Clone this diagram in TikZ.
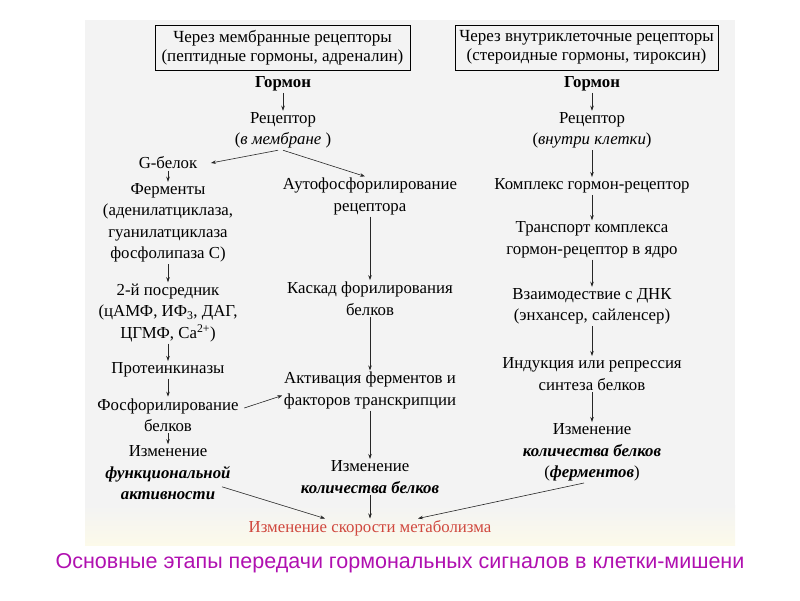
\documentclass[tikz,border=0pt]{standalone}
\usepackage{fontspec}
\setmainfont{Liberation Serif}
\newfontfamily\capfont{Liberation Sans}
\usetikzlibrary{arrows.meta}
\definecolor{bgc}{HTML}{F3F3F3}
\definecolor{bgy}{HTML}{FCFAEA}
\definecolor{metc}{HTML}{D0483E}
\definecolor{capc}{HTML}{B010B0}
\begin{document}
\begin{tikzpicture}[x=1pt,y=-1pt,
  t/.style={align=center, font=\fontsize{16.8}{21.5}\selectfont, inner sep=1.5pt},
  hdr/.style={draw, line width=0.8pt, align=center, inner sep=1pt, minimum height=45pt,
    font=\fontsize{17}{19}\selectfont},
  ar/.style={-{Stealth[length=5pt,width=3.5pt]}, line width=0.6pt, draw=black!85}]
\useasboundingbox (0,0) rectangle (800,600);
\fill[bgc] (85,20) rectangle (735,505);
\shade[top color=bgc, bottom color=bgy] (85,505) rectangle (735,545);

% headers
\node[hdr, minimum width=255pt] (b1) at (282.5,47.5) {Через мембранные рецепторы\\(пептидные гормоны, адреналин)};
\node[hdr, minimum width=263pt] (b2) at (586.5,47.5) {Через внутриклеточные рецепторы\\(стероидные гормоны, тироксин)};

% left branch
\node[t, font=\fontsize{16.8}{21.5}\selectfont\bfseries] (g1) at (283,84) {Гормон};
\node[t] (r1) at (283,130.5) {Рецептор\\(\textit{в мембране} )};
\node[t] (gb) at (168,163) {G-белок};
\node[t] (fer) at (168,223) {Ферменты\\(аденилатциклаза,\\гуанилатциклаза\\фосфолипаза С)};
\node[t] (pos) at (168,313) {2-й посредник\\(цАМФ, ИФ\textsubscript{3}, ДАГ,\\ЦГМФ, Ca\textsuperscript{2+})};
\node[t] (pk) at (168,370) {Протеинкиназы};
\node[t] (fos) at (168,415) {Фосфорилирование\\белков};
\node[t] (izf) at (168,473) {Изменение\\\textbf{\textit{функциональной}}\\\textbf{\textit{активности}}};

% middle branch
\node[t] (auto) at (370,196.5) {Аутофосфорилирование\\рецептора};
\node[t] (kas) at (370,298.5) {Каскад форилирования\\белков};
\node[t] (akt) at (370,390.5) {Активация ферментов и\\факторов транскрипции};
\node[t] (izk) at (370,477) {Изменение\\\textbf{\textit{количества белков}}};
\node[t, text=metc] (met) at (370,528) {Изменение скорости метаболизма};

% right branch
\node[t, font=\fontsize{16.8}{21.5}\selectfont\bfseries] (g2) at (592,84) {Гормон};
\node[t] (r2) at (592,130.5) {Рецептор\\(\textit{внутри клетки})};
\node[t] (kom) at (592,186) {Комплекс гормон-рецептор};
\node[t] (tr) at (592,240) {Транспорт комплекса\\гормон-рецептор в ядро};
\node[t] (dnk) at (592,306.5) {Взаимодествие с ДНК\\(энхансер, сайленсер)};
\node[t] (ind) at (592,374) {Индукция или репрессия\\синтеза белков};
\node[t] (izr) at (592,452.5) {Изменение\\\textbf{\textit{количества белков}}\\(\textbf{\textit{ферментов}})};

% caption
\node[font=\capfont\fontsize{21.5}{24}\selectfont, text=capc, inner sep=0pt] (cap) at (400,563) {Основные этапы передачи гормональных сигналов в клетки-мишени};

% connectors left
\draw[ar] (g1) -- (r1);
\draw[ar] ([xshift=-5pt]r1.south) -- ([xshift=12pt]gb.east);
\draw[ar] (r1.south) -- ([xshift=-5pt]auto.north);
\draw[ar] (gb) -- (fer);
\draw[ar] (fer) -- (pos);
\draw[ar] (pos) -- (pk);
\draw[ar] (pk) -- (fos);
\draw[ar] (fos) -- (izf);
\draw[ar] ([xshift=4pt,yshift=7pt]fos.east) -- ([yshift=-5pt]akt.west);
\draw[ar] ([xshift=54pt,yshift=15pt]izf.south) -- ([xshift=-45pt]met.north);
% middle
\draw[ar] (auto) -- (kas);
\draw[ar] (kas) -- (akt);
\draw[ar] (akt) -- (izk);
\draw[ar] (izk) -- (met);
% right
\draw[ar] (g2) -- (r2);
\draw[ar] (r2) -- (kom);
\draw[ar] (kom) -- (tr);
\draw[ar] (tr) -- (dnk);
\draw[ar] (dnk) -- (ind);
\draw[ar] (ind) -- (izr);
\draw[ar] ([xshift=-8pt]izr.south) -- ([xshift=48pt]met.north);
\end{tikzpicture}
\end{document}
